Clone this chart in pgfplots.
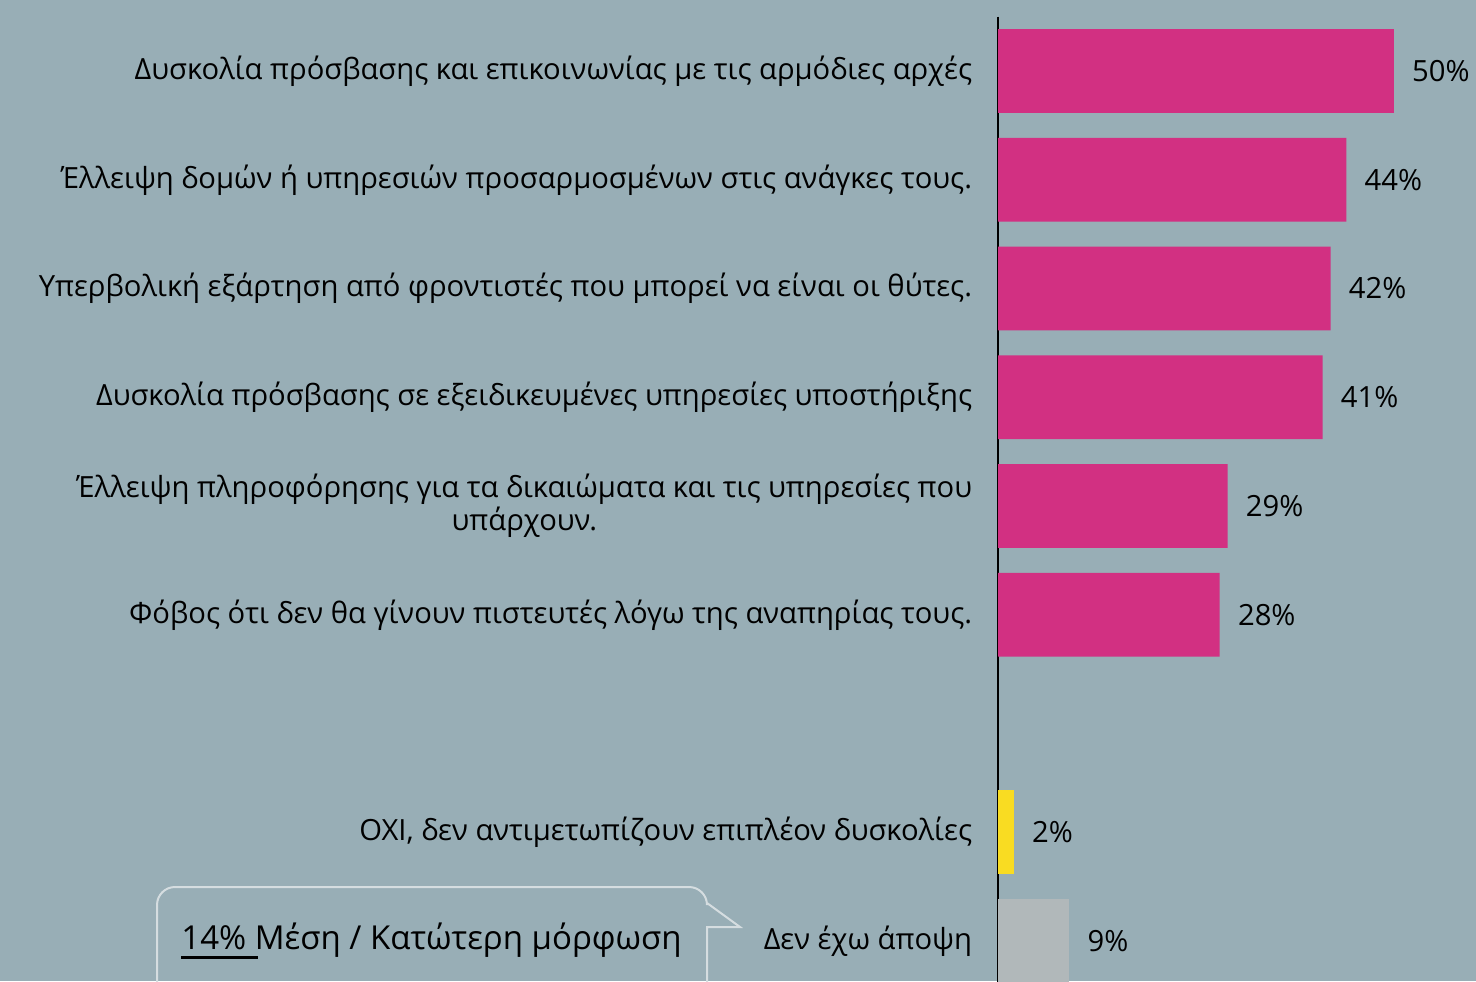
\documentclass[border=0pt]{standalone}
\usepackage{fontspec}
\setmainfont{Open Sans}
\usepackage{pgfplots}
\pgfplotsset{compat=1.18}
\definecolor{bg}{HTML}{98AEB6}
\definecolor{mag}{HTML}{D23082}
\definecolor{yel}{HTML}{F9DC22}
\definecolor{gry}{HTML}{B1B8BA}
\definecolor{bubble}{HTML}{D5DDE0}
\newcommand{\lblfont}{\fontsize{14.6}{16.5}\selectfont}
\begin{document}
\begin{tikzpicture}
% background, 1px = 0.5pt
\fill[bg] (0,0) rectangle (738pt,490.5pt);
\begin{axis}[
  at={(499pt,-7.2pt)}, anchor=south west,
  scale only axis, width=237.5pt, height=489.375pt,
  xbar, bar width=0.77,
  xmin=0, xmax=60, ymin=-0.5, ymax=8.5, y dir=reverse,
  enlargelimits=false,
  axis x line=none, xtick=\empty,
  axis y line*=left,
  y axis line style={line width=1pt, -},
  ytick={0,1,2,3,4,5,7,8},
  yticklabels={
    Δυσκολία πρόσβασης και επικοινωνίας με τις αρμόδιες αρχές,
    Έλλειψη δομών ή υπηρεσιών προσαρμοσμένων στις ανάγκες τους.,
    Υπερβολική εξάρτηση από φροντιστές που μπορεί να είναι οι θύτες.,
    Δυσκολία πρόσβασης σε εξειδικευμένες υπηρεσίες υποστήριξης,
    {Έλλειψη πληροφόρησης για τα δικαιώματα και τις υπηρεσίες που\\υπάρχουν.},
    Φόβος ότι δεν θα γίνουν πιστευτές λόγω της αναπηρίας τους.,
    {ΟΧΙ, δεν αντιμετωπίζουν επιπλέον δυσκολίες},
    Δεν έχω άποψη},
  ytick style={draw=none},
  yticklabel style={align=center, inner sep=0pt, xshift=-8.5pt, font=\lblfont},
  point meta=x,
  /pgf/number format/assume math mode=true,
  nodes near coords={\pgfmathprintnumber{\pgfplotspointmeta}\%},
  nodes near coords style={anchor=west, inner sep=0pt, xshift=9pt, font=\lblfont, text=black},
]
\addplot[fill=mag, draw=none, bar shift=0pt] coordinates {
  (50,0) (44,1) (42,2) (41,3) (29,4) (28,5)};
\addplot[fill=yel, draw=none, bar shift=0pt] coordinates {(2,7)};
\addplot[fill=gry, draw=none, bar shift=0pt] coordinates {(9,8)};
\end{axis}
% callout, in image pixels (origin top left)
\begin{scope}[x=0.5pt, y=-0.5pt, yshift=490.5pt]
\draw[bubble, line width=1pt] (157,995) [rounded corners=9pt] -- (157,887) -- (707,887) [sharp corners] -- (707,903) -- (740,927) -- (707,927) -- (707,995);
\node[anchor=base west, inner sep=0pt, font=\fontsize{16.5}{19}\selectfont] at (181,949) {14\% Μέση / Κατώτερη μόρφωση};
\draw[line width=1.5pt] (181,957) -- (258,957);
\end{scope}
\pgfresetboundingbox
\useasboundingbox (0,0) rectangle (738pt,490.5pt);
\end{tikzpicture}
\end{document}
